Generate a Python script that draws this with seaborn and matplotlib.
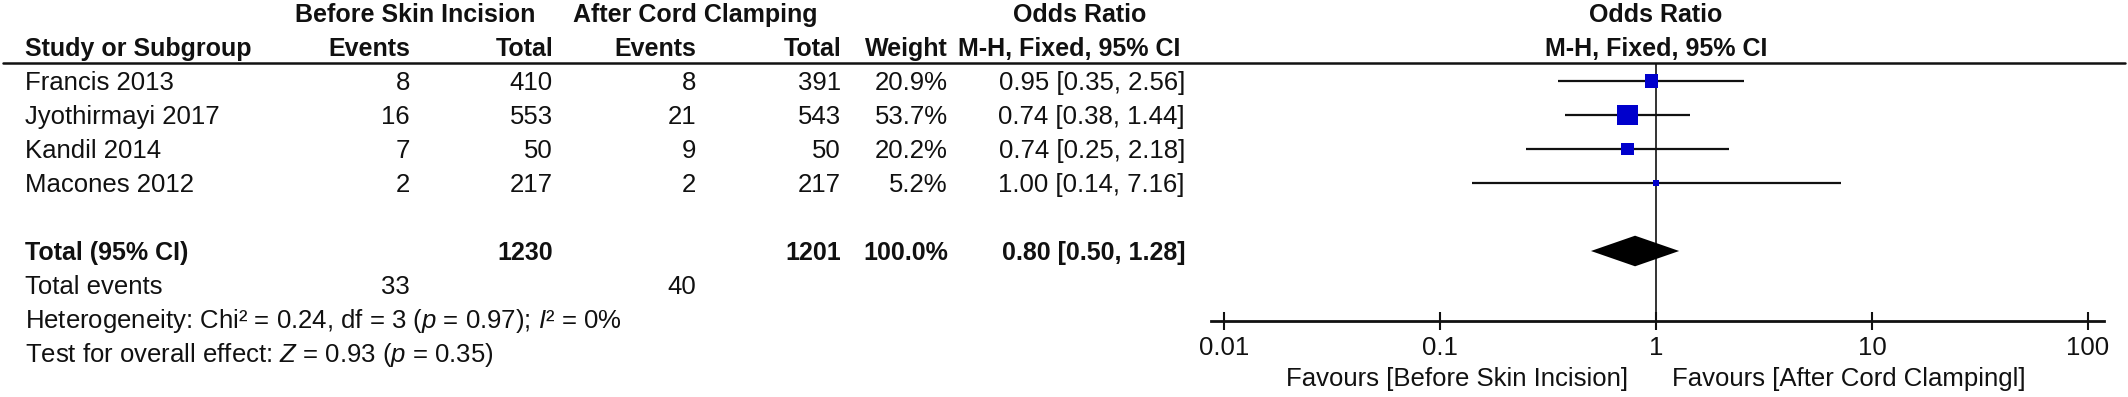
import numpy as np
import matplotlib
matplotlib.use('Agg')
import matplotlib.pyplot as plt
from matplotlib.lines import Line2D
from matplotlib.ticker import FixedLocator, FixedFormatter, NullLocator
import seaborn as sns

# ---- data ----
studies = ["Francis 2013", "Jyothirmayi 2017", "Kandil 2014", "Macones 2012"]
ev_before = [8, 16, 7, 2]
tot_before = [410, 553, 50, 217]
ev_after = [8, 21, 9, 2]
tot_after = [391, 543, 50, 217]
weights = [20.9, 53.7, 20.2, 5.2]
or_est = [0.95, 0.74, 0.74, 1.00]
or_lo = [0.35, 0.38, 0.25, 0.14]
or_hi = [2.56, 1.44, 2.18, 7.16]

total_before, total_after = 1230, 1201
events_before, events_after = 33, 40
pooled_est, pooled_lo, pooled_hi = 0.80, 0.50, 1.28

tick_vals = [0.01, 0.1, 1, 10, 100]
tick_labels = ["0.01", "0.1", "1", "10", "100"]

# ---- layout (pixels) ----
W, H = 2128, 397
ROW0, ROWSTEP = 81, 34
sns.set_theme(style="white")
plt.rcParams['font.family'] = ['Liberation Sans', 'DejaVu Sans']
plt.rcParams['mathtext.fontset'] = 'custom'
plt.rcParams['mathtext.rm'] = 'Liberation Sans'
plt.rcParams['mathtext.it'] = 'Liberation Sans:italic'
FS = 18
FS_REG = 18.5
INK = '#111111'
BLUE = '#0000CC'

fig = plt.figure(figsize=(W / 100, H / 100), dpi=100)
fig.patch.set_facecolor('white')

def ry(row):
    return ROW0 + ROWSTEP * row

def put(x, row, s, ha='right', bold=False):
    # baseline sits half a cap height under the row centre
    fig.text(x / W, 1 - (ry(row) + 9) / H, s, ha=ha, va='baseline',
             fontsize=FS if bold else FS_REG,
             fontweight='bold' if bold else 'normal', color=INK)

# column anchors
X_STUDY, X_EV1, X_TOT1, X_EV2, X_TOT2, X_W, X_OR = 25, 410, 553, 696, 841, 948, 1185

# headers
put(415, -2, "Before Skin Incision", ha='center', bold=True)
put(695, -2, "After Cord Clamping", ha='center', bold=True)
put(1080, -2, "Odds Ratio", ha='center', bold=True)
put(1656, -2, "Odds Ratio", ha='center', bold=True)
put(X_STUDY, -1, "Study or Subgroup", ha='left', bold=True)
put(X_EV1, -1, "Events", bold=True)
put(X_TOT1, -1, "Total", bold=True)
put(X_EV2, -1, "Events", bold=True)
put(X_TOT2, -1, "Total", bold=True)
put(X_W, -1, "Weight", bold=True)
put(1180, -1, "M-H, Fixed, 95% CI", bold=True)
put(1656, -1, "M-H, Fixed, 95% CI", ha='center', bold=True)

fig.add_artist(Line2D([3 / W, 2125 / W], [1 - 63 / H] * 2, color=INK, lw=1.8))

# study rows
for i, name in enumerate(studies):
    put(X_STUDY, i, name, ha='left')
    put(X_EV1, i, str(ev_before[i]))
    put(X_TOT1, i, str(tot_before[i]))
    put(X_EV2, i, str(ev_after[i]))
    put(X_TOT2, i, str(tot_after[i]))
    put(X_W, i, f"{weights[i]:.1f}%")
    put(X_OR, i, f"{or_est[i]:.2f} [{or_lo[i]:.2f}, {or_hi[i]:.2f}]")

# totals
put(X_STUDY, 5, "Total (95% CI)", ha='left', bold=True)
put(X_TOT1, 5, str(total_before), bold=True)
put(X_TOT2, 5, str(total_after), bold=True)
put(X_W, 5, f"{sum(weights):.1f}%", bold=True)
put(X_OR, 5, f"{pooled_est:.2f} [{pooled_lo:.2f}, {pooled_hi:.2f}]", bold=True)
put(X_STUDY, 6, "Total events", ha='left')
put(X_EV1, 6, str(events_before))
put(X_EV2, 6, str(events_after))
put(X_STUDY, 7, r"Heterogeneity: Chi² = 0.24, df = 3 ($\mathit{p}$ = 0.97); $\mathit{I}$² = 0%", ha='left')
put(X_STUDY, 8, r"Test for overall effect: $\mathit{Z}$ = 0.93 ($\mathit{p}$ = 0.35)", ha='left')

# ---- forest axes ----
LEFT, RIGHT, TOP, BOT = 1211, 2104, 63, 321
X1, DEC = 1656, 216  # pixel of OR=1, pixels per decade
ax = fig.add_axes([LEFT / W, 1 - BOT / H, (RIGHT - LEFT) / W, (BOT - TOP) / H])
ax.set_xscale('log')
ax.set_xlim(10 ** ((LEFT - X1) / DEC), 10 ** ((RIGHT - X1) / DEC))
ax.set_ylim((BOT - ROW0) / ROWSTEP, (TOP - ROW0) / ROWSTEP)
ax.patch.set_alpha(0)

rows = np.arange(len(studies))
ax.hlines(rows, or_lo, or_hi, color=INK, lw=1.6, zorder=2)
ax.axvline(1, color=INK, lw=1.2, zorder=1)
sns.scatterplot(x=or_est, y=rows, size=weights, sizes=(4.2 * min(weights), 4.2 * max(weights)),
                size_norm=(min(weights), max(weights)), marker='s', color=BLUE,
                linewidth=0, legend=False, ax=ax, zorder=3)

# pooled diamond
prow, half = 5, 0.45
ax.fill([pooled_lo, pooled_est, pooled_hi, pooled_est], [prow, prow - half, prow, prow + half],
        color='black', lw=0, zorder=3)

for s in ['top', 'left', 'right']:
    ax.spines[s].set_visible(False)
ax.spines['bottom'].set_color(INK)
ax.spines['bottom'].set_linewidth(2)
ax.xaxis.set_major_locator(FixedLocator(tick_vals))
ax.xaxis.set_major_formatter(FixedFormatter(tick_labels))
ax.xaxis.set_minor_locator(NullLocator())
ax.tick_params(axis='x', direction='inout', length=13, width=1.5, color=INK,
               labelsize=FS_REG, labelcolor=INK, pad=4, bottom=True)
ax.set_yticks([])
ax.set_xlabel('')
ax.set_ylabel('')

fig.text(1628 / W, 1 - (377 + 9) / H, "Favours [Before Skin Incision]", ha='right', va='baseline',
         fontsize=FS_REG, color=INK)
fig.text(1672 / W, 1 - (377 + 9) / H, "Favours [After Cord Clampingl]", ha='left', va='baseline',
         fontsize=FS_REG, color=INK)

fig.savefig("out.png", dpi=100, facecolor='white')
